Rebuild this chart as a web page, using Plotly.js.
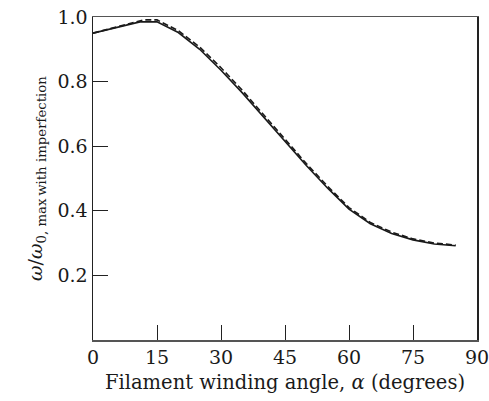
<!DOCTYPE html>
<html>
<head>
<meta charset="utf-8">
<script src="https://cdn.plot.ly/plotly-3.0.1.min.js"></script>
<style>html,body{margin:0;padding:0;background:#fff;}#chart{width:489px;height:401px;}</style>
</head>
<body>
<div id="chart"></div>
<script>
// Filament winding angle (degrees)
var angleSolid = [0, 5, 11, 15, 20, 25, 30, 35, 40, 45, 50, 55, 60, 65, 70, 75, 80, 85];
var freqSolid  = [0.950, 0.966, 0.985, 0.985, 0.952, 0.900, 0.835, 0.765, 0.690, 0.615, 0.540, 0.470, 0.405, 0.360, 0.330, 0.310, 0.297, 0.292];
var angleDashed = [0, 5, 10, 12, 15, 20, 25, 30, 35, 40, 45, 50, 55, 60, 65, 70, 75, 80, 85];
var freqDashed  = [0.950, 0.967, 0.985, 0.991, 0.991, 0.958, 0.907, 0.843, 0.773, 0.697, 0.621, 0.546, 0.476, 0.410, 0.364, 0.334, 0.313, 0.300, 0.294];
var xTicks = [0, 15, 30, 45, 60, 75, 90];
var yTicks = [0.2, 0.4, 0.6, 0.8, 1.0];
var yTickText = ['0.2', '0.4', '0.6', '0.8', '1.0'];

var serif = '"DejaVu Serif", "Liberation Serif", serif';

var traces = [
  {x: angleSolid, y: freqSolid, mode: 'lines', line: {color: '#1a1a1a', width: 1.6}, showlegend: false, hoverinfo: 'skip'},
  {x: angleDashed, y: freqDashed, mode: 'lines', line: {color: '#1a1a1a', width: 1.6, dash: '6px,3px'}, showlegend: false, hoverinfo: 'skip'}
];

var layout = {
  width: 489, height: 401,
  margin: {l: 93, r: 12, t: 17, b: 61},
  paper_bgcolor: '#fff', plot_bgcolor: '#fff',
  font: {family: serif, color: '#1a1a1a'},
  showlegend: false,
  xaxis: {
    range: [0, 90], tickvals: xTicks, ticktext: xTicks.map(String),
    ticks: 'inside', ticklen: 15, tickwidth: 1, tickcolor: '#222',
    showline: true, linecolor: '#555', linewidth: 1.5, mirror: true,
    showgrid: false, zeroline: false, ticklabeloverflow: 'allow',
    tickfont: {family: serif, size: 19, color: '#1a1a1a'},
    title: {text: 'Filament winding angle, <i>α</i> (degrees)', font: {family: serif, size: 19.5, color: '#1a1a1a'}, standoff: 8}
  },
  yaxis: {
    range: [0, 1.0], tickvals: yTicks, ticktext: yTickText,
    ticks: 'inside', ticklen: 15, tickwidth: 1, tickcolor: '#222',
    showline: true, linecolor: '#222', linewidth: 1.5, mirror: true,
    showgrid: false, zeroline: false,
    tickfont: {family: serif, size: 19, color: '#1a1a1a'},
    title: {text: '<i>ω</i>/<i>ω</i><sub>0, max\u2009with imperfection</sub>\u2003\u2002', font: {family: serif, size: 19, color: '#1a1a1a'}, standoff: 10}
  }
};

Plotly.newPlot('chart', traces, layout, {staticPlot: true, displayModeBar: false});
</script>
</body>
</html>
